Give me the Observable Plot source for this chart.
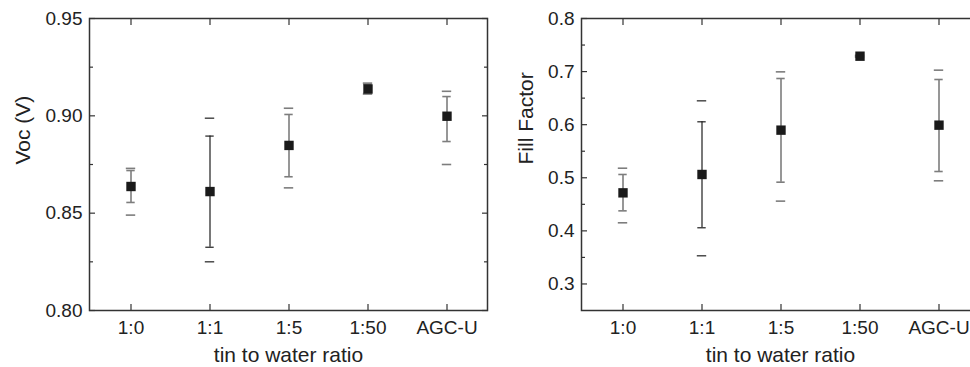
<!DOCTYPE html>
<html>
<head>
<meta charset="utf-8">
<script src="https://cdn.jsdelivr.net/npm/d3@7"></script>
<script src="https://cdn.jsdelivr.net/npm/@observablehq/plot@0.6"></script>
<style>
  html, body { margin: 0; padding: 0; background: #fff; overflow: hidden; }
  #wrap { position: relative; width: 970px; height: 367px; overflow: hidden; }
  #left, #right { position: absolute; top: 0; width: 490px; height: 367px; }
  #left { left: 0; }
  #right { left: 490px; }
  #wrap svg { max-width: none !important; width: 490px; height: 367px; }
</style>
</head>
<body>
<div id="wrap"><div id="left"></div><div id="right"></div></div>
<script>
// ---- data ----
const categories = ["1:0", "1:1", "1:5", "1:50", "AGC-U"];
const xLabel = "tin to water ratio";

// Voc (V)
const vocMean    = [0.8637, 0.8611, 0.8848, 0.9138, 0.8998];
const vocErrLow  = [0.8555, 0.8325, 0.8687, 0.9115, 0.8868];
const vocErrHigh = [0.8719, 0.8896, 0.9007, 0.9162, 0.9099];
const vocMin     = [0.8490, 0.8250, 0.8630, 0.9112, 0.8750];
const vocMax     = [0.8730, 0.8988, 0.9039, 0.9168, 0.9126];
const vocTicks   = [0.80, 0.85, 0.90, 0.95];
const vocMinor   = [0.825, 0.875, 0.925];

// Fill Factor
const ffMean    = [0.4716, 0.5062, 0.5897, 0.7290, 0.5991];
const ffErrLow  = [0.4377, 0.4058, 0.4917, 0.7280, 0.5118];
const ffErrHigh = [0.5062, 0.6054, 0.6870, 0.7300, 0.6851];
const ffMin     = [0.4152, 0.3530, 0.4560, 0.7275, 0.4943];
const ffMax     = [0.5180, 0.6449, 0.6995, 0.7305, 0.7027];
const ffTicks   = [0.3, 0.4, 0.5, 0.6, 0.7, 0.8];
const ffMinor   = [0.35, 0.45, 0.55, 0.65, 0.75];

// ---- drawing ----
const barColor = c => c === "1:1" ? "#1e1e1e" : "#7d7d7d";
const barWidth = c => c === "1:1" ? 1.2 : 1.6;

function panel({mean, lo, hi, mn, mx, domain, ticks, minor, fmt, ylabel, marginLeft, marginRight, labelDx}) {
  const rows = categories.map((c, i) => ({cat: c, mean: mean[i], lo: lo[i], hi: hi[i], mn: mn[i], mx: mx[i]}));
  const blank = () => "";
  const W = 490;
  const bw = (W - marginLeft - marginRight) / categories.length;
  const capInset = (bw - 9) / 2;
  const dashInset = (bw - 10) / 2;
  const axisStyle = {stroke: "#333", strokeWidth: 1.2, label: null};
  const st = d => barColor(d.cat), sw = d => barWidth(d.cat);
  return Plot.plot({
    width: W,
    height: 367,
    marginTop: 18,
    marginBottom: 57,
    marginLeft,
    marginRight,
    style: {fontFamily: "'Liberation Sans', Arial, Helvetica, sans-serif", fontSize: "19px", color: "#222", background: "transparent", overflow: "visible"},
    x: {type: "band", domain: categories, padding: 0},
    y: {domain},
    marks: [
      Plot.axisY({...axisStyle, ticks, tickSize: -6, tickPadding: 13, tickFormat: d3.format(fmt), fill: "#222"}),
      Plot.axisY({...axisStyle, ticks: minor, tickSize: -4, tickFormat: blank}),
      Plot.axisY({...axisStyle, anchor: "right", ticks, tickSize: -6, tickFormat: blank}),
      Plot.axisY({...axisStyle, anchor: "right", ticks: minor, tickSize: -4, tickFormat: blank}),
      Plot.axisX({...axisStyle, anchor: "bottom", tickSize: -6, tickPadding: 16, fill: "#222"}),
      Plot.axisX({...axisStyle, anchor: "top", tickSize: -6, tickFormat: blank}),
      Plot.frame({stroke: "#333", strokeWidth: 1.5}),
      Plot.ruleX(rows, {x: "cat", y1: "lo", y2: "hi", stroke: st, strokeWidth: sw}),
      Plot.tickY(rows, {x: "cat", y: "lo", inset: capInset, stroke: st, strokeWidth: sw}),
      Plot.tickY(rows, {x: "cat", y: "hi", inset: capInset, stroke: st, strokeWidth: sw}),
      Plot.tickY(rows, {x: "cat", y: "mn", inset: dashInset, stroke: st, strokeWidth: sw}),
      Plot.tickY(rows, {x: "cat", y: "mx", inset: dashInset, stroke: st, strokeWidth: sw}),
      Plot.dot(rows, {x: "cat", y: "mean", symbol: "square", r: 5.3, fill: "#1a1a1a", stroke: "none"}),
      Plot.text([ylabel], {text: d => d, frameAnchor: "left", dx: labelDx, rotate: -90, fontSize: 21, fill: "#222"}),
      Plot.text([xLabel], {text: d => d, frameAnchor: "bottom", dy: 45, lineAnchor: "middle", fontSize: 21, fill: "#222"})
    ]
  });
}

document.getElementById("left").appendChild(panel({
  mean: vocMean, lo: vocErrLow, hi: vocErrHigh, mn: vocMin, mx: vocMax,
  domain: [0.80, 0.95], ticks: vocTicks, minor: vocMinor, fmt: ".2f",
  ylabel: "Voc (V)", marginLeft: 89, marginRight: 3, labelDx: -66
}));
document.getElementById("right").appendChild(panel({
  mean: ffMean, lo: ffErrLow, hi: ffErrHigh, mn: ffMin, mx: ffMax,
  domain: [0.25, 0.80], ticks: ffTicks, minor: ffMinor, fmt: ".1f",
  ylabel: "Fill Factor", marginLeft: 91, marginRight: 1, labelDx: -55
}));
</script>
</body>
</html>
